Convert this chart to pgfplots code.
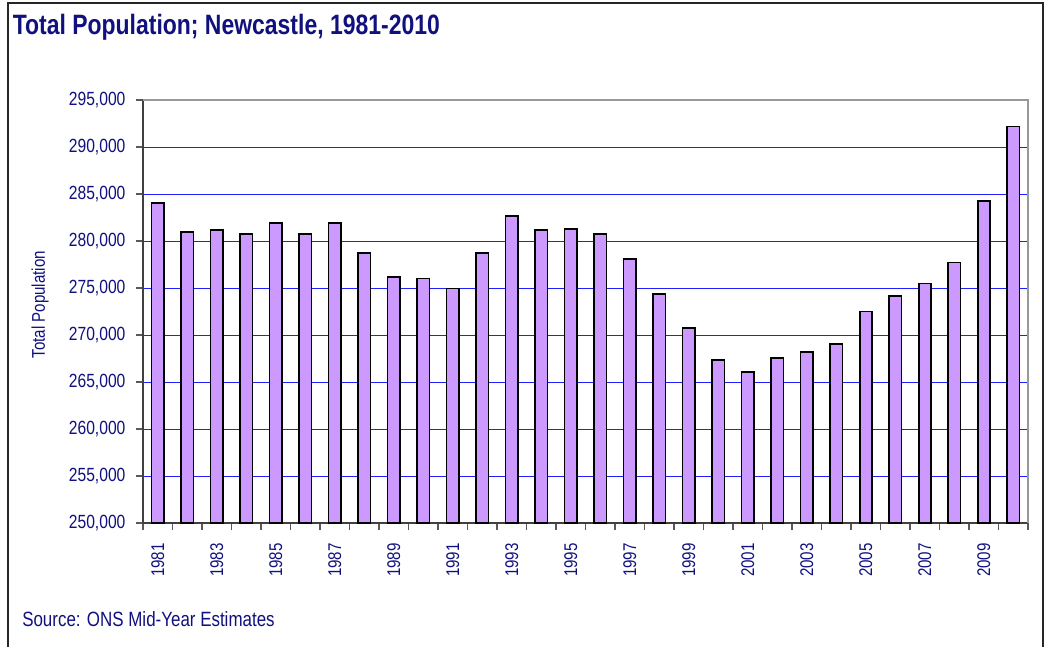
\documentclass[border=0pt]{standalone}
\usepackage{fontspec}
\setmainfont{Liberation Sans}[FakeStretch=0.82]
\usepackage{pgfplots}
\pgfplotsset{compat=1.18}
\definecolor{barfill}{HTML}{CC99FF}
\definecolor{navytxt}{HTML}{10107F}
\definecolor{gridblue}{HTML}{2020FF}
\begin{document}
\begin{tikzpicture}
\path[use as bounding box] (0,0) rectangle (786pt,484.5pt);
\draw[black!85, line width=0.8pt] (6pt,-5pt) -- (6pt,482.25pt) -- (782.25pt,482.25pt) -- (782.25pt,-5pt);
\node[anchor=base west, text=navytxt, font=\fontsize{21}{24}\selectfont\bfseries, inner sep=0pt] at (9.4pt,458.25pt) {Total Population; Newcastle, 1981-2010};
\node[rotate=90, text=navytxt, font=\fontsize{13.8}{16}\selectfont, inner sep=0pt] at (30pt,256pt) {Total Population};
\node[anchor=base west, text=navytxt, font=\fontsize{15.5}{18}\selectfont, inner sep=0pt] at (16.5pt,14.5pt) {Source: ONS Mid-Year Estimates};
\begin{axis}[
 at={(107.25pt,92.25pt)}, anchor=south west, scale only axis,
 width=663.75pt, height=317.25pt,
 xmin=-0.5, xmax=29.5, ymin=250000, ymax=295000,
 axis lines*=left,
 axis line style={-, draw=black!75, line width=1.4pt},
 tick align=outside,
 major tick length=5pt,
 tick style={black!65, line width=1pt},
 ytick={250000,255000,260000,265000,270000,275000,280000,285000,290000,295000},
 scaled y ticks=false,
 /pgf/number format/fixed,
 /pgf/number format/1000 sep={,},
 /pgf/number format/assume math mode=true,
 yticklabel style={text=navytxt, font=\fontsize{14.3}{16}\selectfont, inner sep=0pt, xshift=-8pt},
 xtick={-0.5,0.5,...,29.5},
 xticklabels={},
 extra x ticks={0,2,...,28},
 extra x tick labels={1981,1983,1985,1987,1989,1991,1993,1995,1997,1999,2001,2003,2005,2007,2009},
 extra x tick style={major tick length=0pt, xticklabel style={yshift=-15pt, rotate=90, anchor=east, inner sep=0pt, text=navytxt, font=\fontsize{13.8}{16}\selectfont}},
 ymajorgrids,
 major grid style={gridblue, line width=0.75pt},
 after end axis/.code={\draw[black!40, line width=1.2pt] (rel axis cs:0,1) -- (rel axis cs:1,1) -- (rel axis cs:1,0);},
]
\addplot[ybar, bar width=0.42, fill=barfill, draw=black, line width=1.4pt] coordinates {
(0,284083) (1,280917) (2,281130) (3,280746) (4,281876) (5,280746) (6,281876) (7,278678) (8,276194) (9,276013)
(10,274947) (11,278678) (12,282623) (13,281130) (14,281311) (15,280778) (16,278113) (17,274350) (18,270789) (19,267377)
(20,266066) (21,267590) (22,268166) (23,269083) (24,272495) (25,274168) (26,275480) (27,277719) (28,284296) (29,292185)
};
\end{axis}
\end{tikzpicture}
\end{document}
